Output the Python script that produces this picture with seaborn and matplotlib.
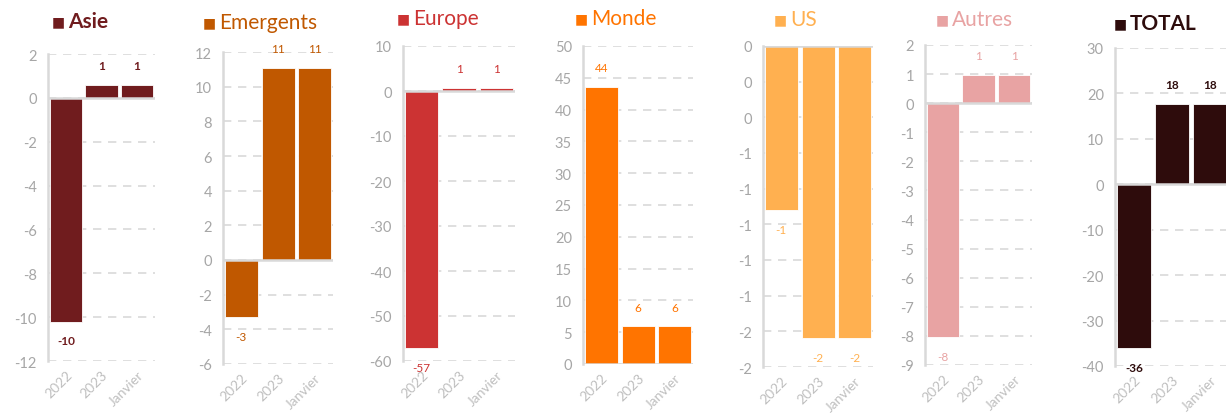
import matplotlib
matplotlib.use('Agg')
import matplotlib.pyplot as plt
from matplotlib.ticker import FuncFormatter, MultipleLocator
import numpy as np
import pandas as pd
import seaborn as sns

sns.set_style('white')
plt.rcParams['font.family'] = ['Lato', 'DejaVu Sans']

categories = ['2022', '2023', 'Janvier']
names = ['Asie', 'Emergents', 'Europe', 'Monde', 'US', 'Autres', 'TOTAL']
asie = [-10.2, 0.6, 0.6]
emergents = [-3.3, 11.1, 11.1]
europe = [-57.2, 0.6, 0.6]
monde = [43.6, 5.9, 5.9]
us = [-0.92, -1.64, -1.64]
autres = [-8.05, 0.96, 0.96]
total = [-36.1, 17.7, 17.7]
series = [asie, emergents, europe, monde, us, autres, total]

colors = ['#701C1E', '#C05800', '#CC3333', '#FF7400', '#FFB050', '#E8A3A3', '#2E0C0C']
ylims = [(-12, 2), (-6, 12), (-60, 10), (0, 50), (-1.8, 0), (-9, 2), (-40, 30)]
ysteps = [2, 2, 10, 5, 0.2, 1, 10]

# pixel boxes: left, right, top, bottom
W, H = 1226, 414
boxes = [(48, 155, 55, 362), (223, 333, 53, 365), (403, 515, 47, 362),
         (583, 693, 47, 365), (763, 873, 47, 368), (925, 1032, 46, 366),
         (1115, 1229, 49, 367)]
title_pos = [(52, 22), (203, 23), (397, 19), (575, 19), (774, 20), (936, 20), (1114, 24)]
bold = [True, False, False, False, False, False, True]

grey = '#BFBFBF'
line = '#D9D9D9'

fig = plt.figure(figsize=(W / 100, H / 100), dpi=100)

for i, name in enumerate(names):
    l, r, t, b = boxes[i]
    ax = fig.add_axes([l / W, 1 - b / H, (r - l) / W, (b - t) / H])
    df = pd.DataFrame({'cat': categories, 'val': series[i]})
    ax.yaxis.grid(True, color=line, linestyle=(0, (5, 4)), linewidth=1.2)
    ax.set_axisbelow(True)
    sns.barplot(data=df, x='cat', y='val', color=colors[i], saturation=1,
                width=0.9, errorbar=None, ax=ax, edgecolor='white', linewidth=0.6)
    ax.set_ylim(*ylims[i])
    ax.set_xlim(-0.5, 2.5)
    ax.yaxis.set_major_locator(MultipleLocator(ysteps[i]))
    ax.yaxis.set_major_formatter(FuncFormatter(lambda v, p: f"{int(round(v))}"))
    ax.axhline(0, color=line, linewidth=1.8, zorder=3)
    for s in ['top', 'right', 'bottom']:
        ax.spines[s].set_visible(False)
    ax.spines['left'].set_color(line)
    ax.spines['left'].set_linewidth(1.8)
    ax.tick_params(axis='y', colors=grey, labelsize=10.5, length=5, width=1.2, color=line, pad=3)
    ax.tick_params(axis='x', colors=grey, labelsize=10, length=0, pad=5)
    for lab in ax.get_yticklabels():
        lab.set_color('#A6A6A6')
    plt.setp(ax.get_xticklabels(), rotation=45, ha='right', rotation_mode='anchor')
    ax.set_xlabel('')
    ax.set_ylabel('')

    for j, v in enumerate(series[i]):
        off = 14 if v >= 0 else -14
        ax.annotate(f"{int(round(v))}", (j, v), xytext=(0, off), textcoords='offset points',
                    ha='center', va='center', fontsize=8.5, color=colors[i],
                    fontweight='bold' if bold[i] else 'normal')

    tx, ty = title_pos[i]
    fig.text(tx / W, 1 - ty / H, '■', fontsize=10, color=colors[i], va='center', ha='left',
             family=['DejaVu Sans'])
    fig.text((tx + 16) / W, 1 - ty / H, name, fontsize=15, color=colors[i], va='center', ha='left',
             fontweight='bold' if bold[i] else 'normal')

fig.savefig('out.png', dpi=100)
